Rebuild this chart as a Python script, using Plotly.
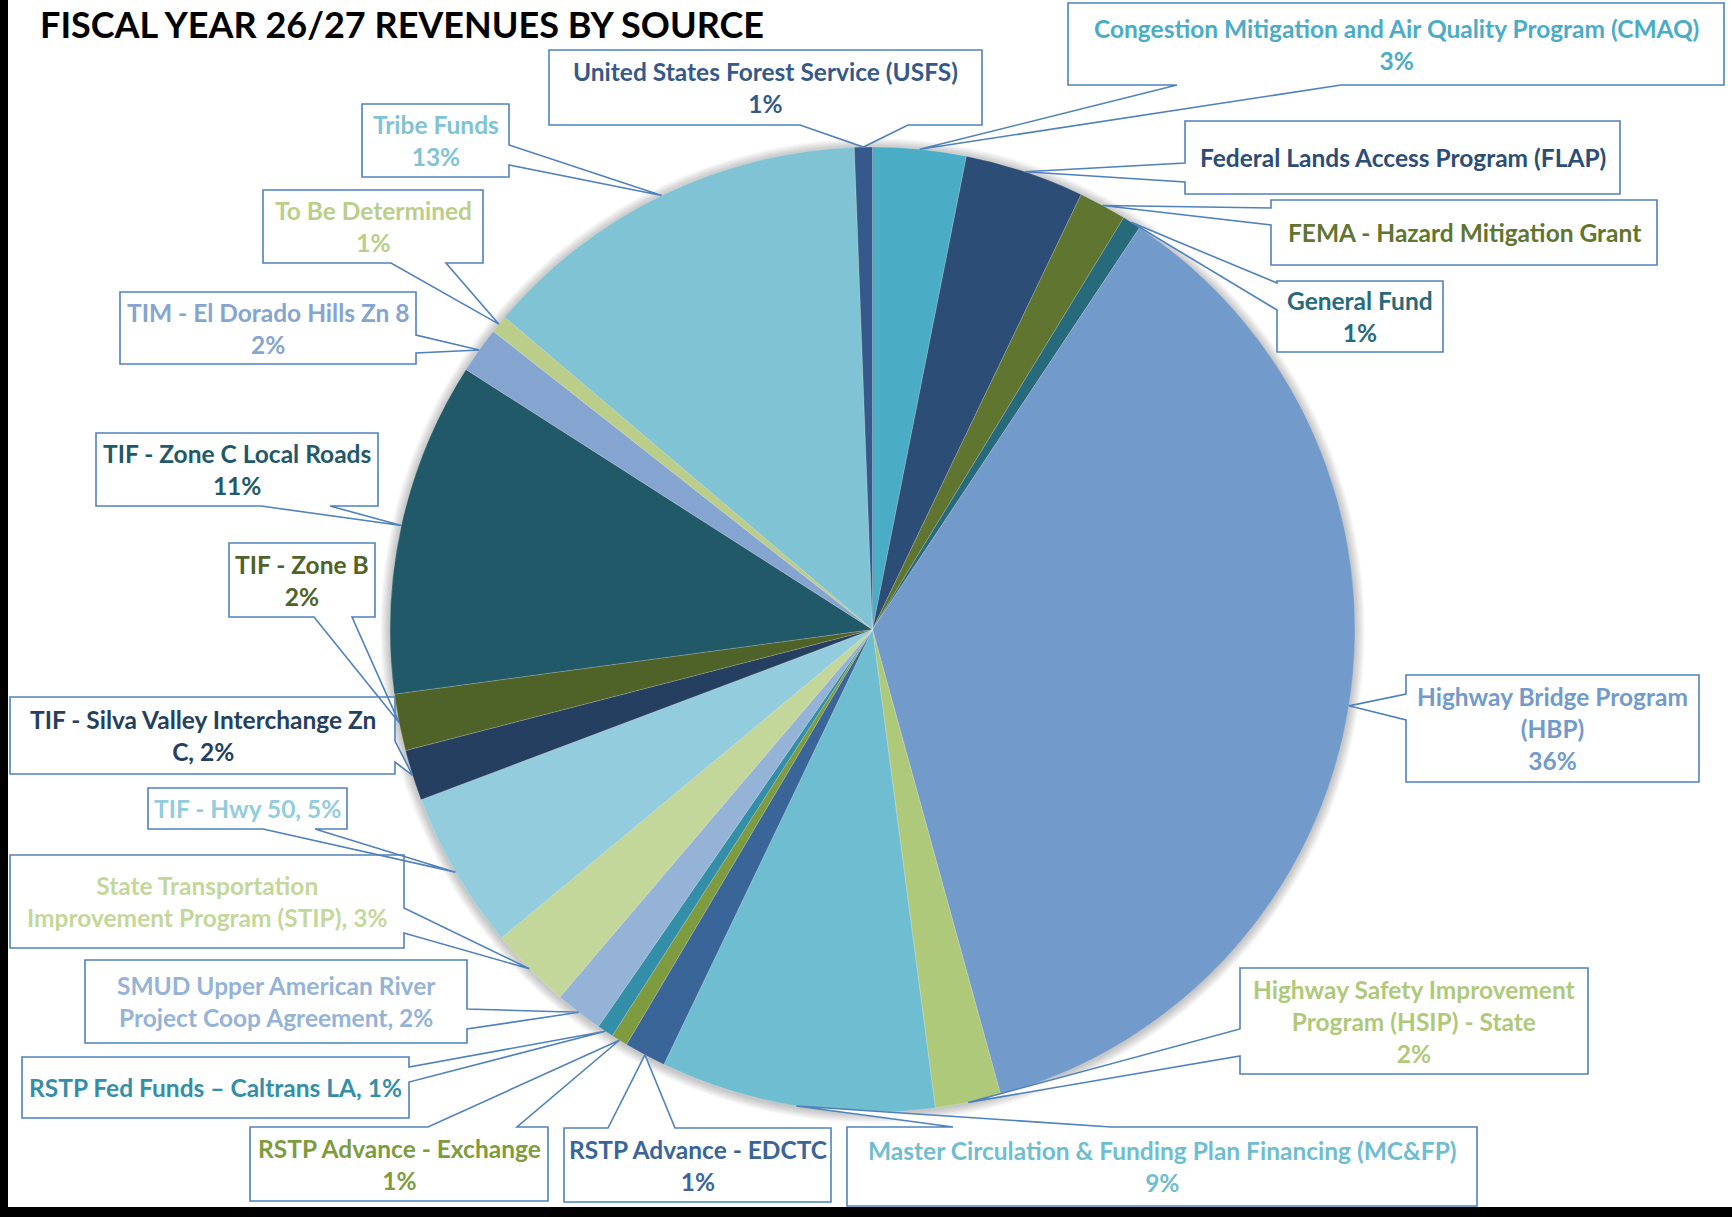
import math
import plotly.graph_objects as go

W, H = 1732, 1217

# ---------------- data ----------------
categories = [
    "Congestion Mitigation and Air Quality Program (CMAQ)",
    "Federal Lands Access Program (FLAP)",
    "FEMA - Hazard Mitigation Grant",
    "General Fund",
    "Highway Bridge Program (HBP)",
    "Highway Safety Improvement Program (HSIP) - State",
    "Master Circulation & Funding Plan Financing (MC&FP)",
    "RSTP Advance - EDCTC",
    "RSTP Advance - Exchange",
    "RSTP Fed Funds – Caltrans LA",
    "SMUD Upper American River Project Coop Agreement",
    "State Transportation Improvement Program (STIP)",
    "TIF - Hwy 50",
    "TIF - Silva Valley Interchange Zn C",
    "TIF - Zone B",
    "TIF - Zone C Local Roads",
    "TIM - El Dorado Hills Zn 8",
    "To Be Determined",
    "Tribe Funds",
    "United States Forest Service (USFS)",
]
values = [3.12, 4.0, 1.6, 0.62, 36.4, 2.2, 9.2, 1.4, 0.55, 0.55,
          1.6, 2.75, 5.3, 1.7, 1.9, 11.2, 1.55, 0.6, 13.2, 0.6]

label_names = [
    "Congestion Mitigation and Air Quality Program (CMAQ)",
    "Federal Lands Access Program (FLAP)",
    "FEMA - Hazard Mitigation Grant",
    "General Fund",
    "Highway Bridge Program<br>(HBP)",
    "Highway Safety Improvement<br>Program (HSIP) - State",
    "Master Circulation & Funding Plan Financing (MC&FP)",
    "RSTP Advance - EDCTC",
    "RSTP Advance - Exchange",
    "RSTP Fed Funds – Caltrans LA",
    "SMUD Upper American River<br>Project Coop Agreement",
    "State Transportation<br>Improvement Program (STIP)",
    "TIF - Hwy 50",
    "TIF - Silva Valley Interchange Zn<br>C",
    "TIF - Zone B",
    "TIF - Zone C Local Roads",
    "TIM - El Dorado Hills Zn 8",
    "To Be Determined",
    "Tribe Funds",
    "United States Forest Service (USFS)",
]
# separator between name and percentage (None = no percentage shown)
pct_sep = ["<br>", None, None, "<br>", "<br>", "<br>", "<br>", "<br>", "<br>", ", ",
           ", ", ", ", ", ", ", ", "<br>", "<br>", "<br>", "<br>", "<br>", "<br>"]

title_text = "FISCAL YEAR 26/27 REVENUES BY SOURCE"

# ---------------- styles ----------------
colors = [
    "#4BACC6", "#2C4D75", "#5F7530", "#276A7C", "#729ACA",
    "#AFC97A", "#6FBDD1", "#3A6599", "#7E9B3F", "#338FA8",
    "#95B3D7", "#C4D79B", "#93CDDD", "#253F60", "#4F6228",
    "#215968", "#85A5D0", "#BACE8A", "#80C3D5", "#34598A",
]
FONT = "Liberation Sans Narrow, Arial Narrow, Lato, sans-serif"
LINE_COL = "#4F81BD"

# pie geometry (pixels)
CX, CY, R = 872.5, 629.5, 482.5

# callout layout: box (x0, y0, x1, y1), edge carrying the pointer, pointer base span
callouts = [
    ((1068, 3, 1724, 85), "bottom", (1177, 1341)),
    ((1185, 121, 1620, 194), "left", (163, 182)),
    ((1271, 200, 1657, 265), "left", (208, 225)),
    ((1277, 281, 1443, 352), "left", (283, 310)),
    ((1406, 675, 1699, 782), "left", (694, 720)),
    ((1240, 968, 1588, 1074), "left", (1029, 1056)),
    ((847, 1127, 1477, 1206), "top", (953, 1111)),
    ((564, 1128, 831, 1202), "top", (608, 675)),
    ((250, 1127, 548, 1201), "top", (428, 517)),
    ((22, 1057, 409, 1118), "right", (1067, 1082)),
    ((85, 960, 467, 1043), "right", (1009, 1029)),
    ((10, 855, 404, 948), "right", (908, 933)),
    ((148, 788, 347, 829), "bottom", (263, 315)),
    ((10, 697, 395, 774), "right", (741, 762)),
    ((229, 543, 375, 617), "bottom", (314, 352)),
    ((96, 433, 378, 506), "bottom", (261, 330)),
    ((120, 292, 416, 364), "right", (335, 353)),
    ((263, 190, 483, 263), "bottom", (391, 446)),
    ((362, 104, 509, 177), "right", (145, 165)),
    ((549, 50, 982, 125), "bottom", (800, 908)),
]


def px(x):
    return x / W


def py(y):
    return 1 - y / H


def P(x, y):
    return f"{px(x):.6f},{py(y):.6f}"


total = sum(values)

# tips: slice mid-angle on the pie edge (clockwise from 12 o'clock)
tips = []
cum = 0.0
for v in values:
    mid = (cum + v / 2) / total * 2 * math.pi
    tips.append((CX + R * math.sin(mid), CY - R * math.cos(mid)))
    cum += v


def callout_path(box, edge, base, tip):
    x0, y0, x1, y1 = box
    a, b = base
    tx, ty = tip
    pts = [(x0, y0)]
    if edge == "top":
        pts += [(a, y0), (tx, ty), (b, y0)]
    pts += [(x1, y0)]
    if edge == "right":
        pts += [(x1, a), (tx, ty), (x1, b)]
    pts += [(x1, y1)]
    if edge == "bottom":
        pts += [(b, y1), (tx, ty), (a, y1)]
    pts += [(x0, y1)]
    if edge == "left":
        pts += [(x0, b), (tx, ty), (x0, a)]
    return "M " + " L ".join(P(x, y) for x, y in pts) + " Z"


fig = go.Figure()
fig.add_trace(go.Pie(
    labels=categories,
    values=values,
    sort=False,
    direction="clockwise",
    rotation=0,
    marker=dict(colors=colors, line=dict(color="rgba(255,255,255,0.3)", width=0.6)),
    textinfo="none",
    hoverinfo="label+percent",
    showlegend=False,
    domain=dict(x=[px(CX - R), px(CX + R)], y=[py(CY + R), py(CY - R)]),
))

shapes = []
# soft shadow round the pie
for k in range(1, 11):
    rr = R + k
    shapes.append(dict(type="circle", xref="paper", yref="paper", layer="below",
                       x0=px(CX - rr), x1=px(CX + rr), y0=py(CY + rr + 1), y1=py(CY - rr + 1),
                       fillcolor="rgba(0,0,0,0.022)", line=dict(width=0)))

paths = [callout_path(box, edge, base, tips[i]) for i, (box, edge, base) in enumerate(callouts)]
for p in paths:
    shapes.append(dict(type="path", xref="paper", yref="paper", path=p,
                       fillcolor="white", line=dict(width=0), layer="above"))
for p in paths:
    shapes.append(dict(type="path", xref="paper", yref="paper", path=p,
                       fillcolor="rgba(0,0,0,0)", line=dict(color=LINE_COL, width=1.6),
                       layer="above"))

# black frame strips (left and bottom)
shapes.append(dict(type="rect", xref="paper", yref="paper", x0=0, x1=px(8), y0=0, y1=1,
                   fillcolor="black", line=dict(width=0), layer="above"))
shapes.append(dict(type="rect", xref="paper", yref="paper", x0=0, x1=1, y0=0, y1=1 - 1207 / H,
                   fillcolor="black", line=dict(width=0), layer="above"))

annotations = []
for i, (box, edge, base) in enumerate(callouts):
    pct = round(values[i] / total * 100)
    txt = label_names[i]
    if pct_sep[i] is not None:
        txt = f"{txt}{pct_sep[i]}{pct}%"
    x0, y0, x1, y1 = box
    annotations.append(dict(
        x=px((x0 + x1) / 2), y=py((y0 + y1) / 2), xref="paper", yref="paper",
        text=txt, showarrow=False, align="center", xanchor="center", yanchor="middle",
        font=dict(family=FONT, size=24.5, color=colors[i], weight="bold"),
    ))

fig.update_layout(
    width=W, height=H,
    margin=dict(l=0, r=0, t=0, b=0),
    paper_bgcolor="white", plot_bgcolor="white",
    title=dict(text=title_text, x=px(40), xanchor="left", xref="paper",
               y=py(25), yanchor="middle", yref="paper",
               font=dict(family=FONT, size=36, color="black", weight="bold")),
    shapes=shapes,
    annotations=annotations,
    xaxis=dict(visible=False), yaxis=dict(visible=False),
)

fig.write_html("out.html", config={"displayModeBar": False},
               post_script="document.body.style.margin='0';document.body.style.overflow='hidden';")
